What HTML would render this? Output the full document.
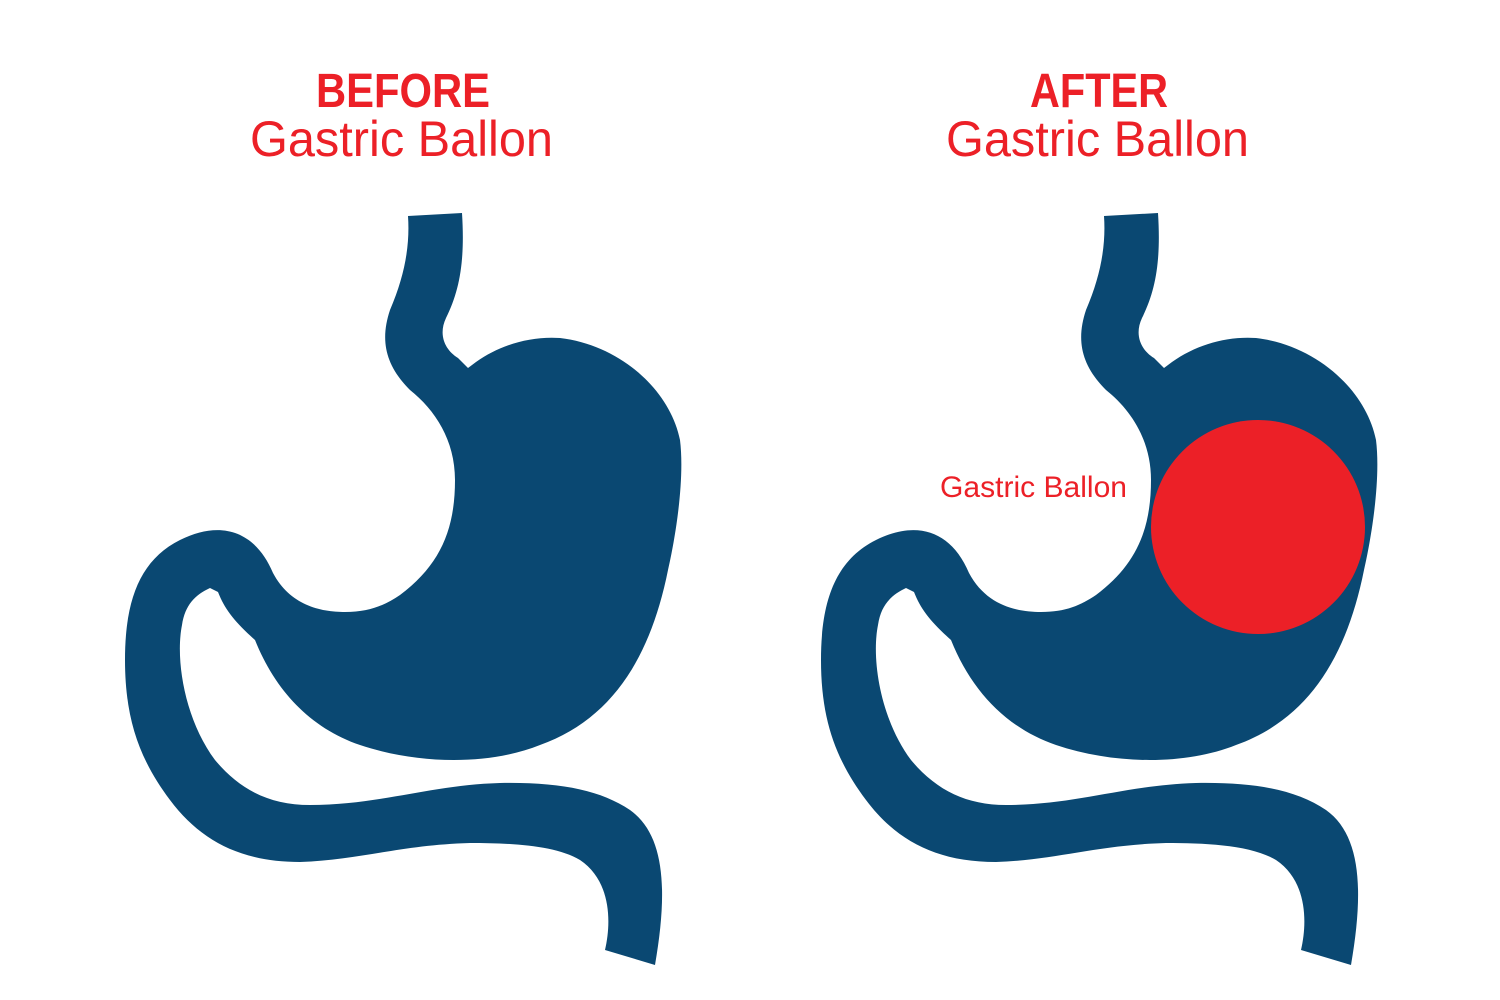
<!DOCTYPE html>
<html><head><style>
html,body{margin:0;padding:0;background:#fff;}
body{width:1500px;height:1000px;position:relative;overflow:hidden;font-family:"Liberation Sans",sans-serif;}
</style></head><body>
<svg width="1500" height="1000" style="position:absolute;left:0;top:0">
<defs>
<path id="st" fill="#0a4872" d="M408,216 L462,213 C465,260 460,290 446,318 C438,335 445,350 458,358 L468,368 L476,362 C500,345 530,336 560,338 C620,345 670,390 680,440 C685,480 675,540 668,570 C650,660 610,720 540,745 C490,765 420,765 360,745 C310,728 275,690 255,640 C235,622 225,610 218,592 L210,588 C195,595 185,605 182,625 C175,660 185,720 215,760 C240,790 270,805 310,805 C380,805 430,785 500,783 C560,782 600,790 630,810 C665,835 668,890 655,965 L605,950 C612,920 610,880 580,860 C555,845 510,843 470,843 C400,845 360,860 300,862 C240,862 200,840 170,800 C140,760 125,720 125,660 C125,600 140,560 180,540 C220,520 255,530 273,573 C290,605 320,612 345,612 C370,612 385,605 400,595 C440,565 455,530 455,480 C455,440 435,410 410,390 C385,365 380,340 390,310 C405,275 410,245 408,216 Z"/>
</defs>
<use href="#st"/>
<use href="#st" x="696"/>
<circle cx="1258" cy="527" r="107" fill="#ec2027"/>
<g fill="#ec2027" font-family="Liberation Sans, sans-serif">
<text x="316" y="107" font-size="48" font-weight="bold" textLength="174" lengthAdjust="spacingAndGlyphs">BEFORE</text>
<text x="250" y="156" font-size="50" textLength="303" lengthAdjust="spacingAndGlyphs">Gastric Ballon</text>
<text x="1030" y="107" font-size="48" font-weight="bold" textLength="138" lengthAdjust="spacingAndGlyphs">AFTER</text>
<text x="946" y="156" font-size="50" textLength="303" lengthAdjust="spacingAndGlyphs">Gastric Ballon</text>
<text x="940" y="497" font-size="30" textLength="187" lengthAdjust="spacingAndGlyphs">Gastric Ballon</text>
</g>
</svg>
</body></html>
